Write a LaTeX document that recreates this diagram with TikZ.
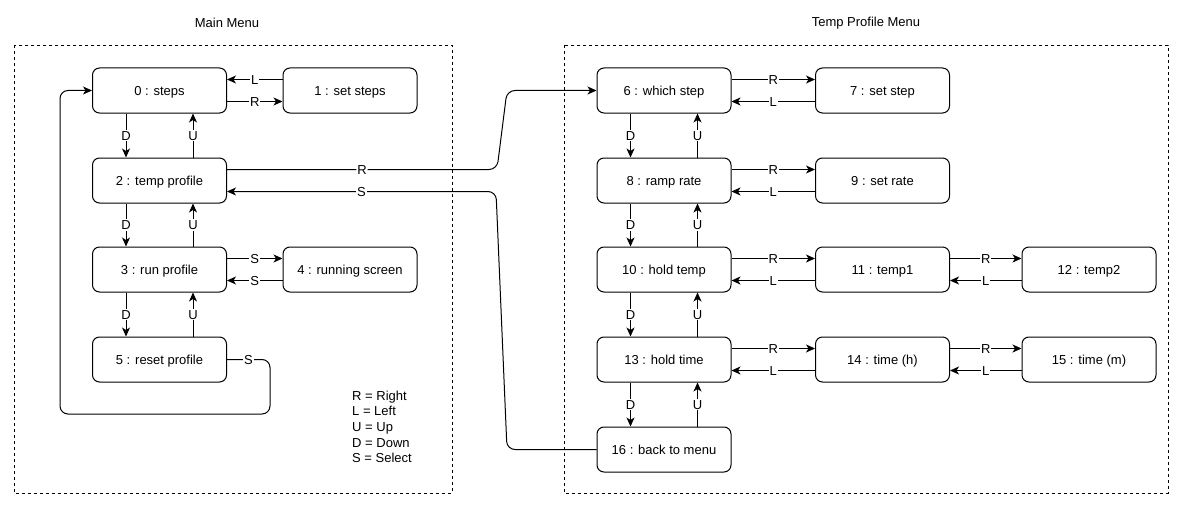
\documentclass[tikz,border=0pt]{standalone}
\usepackage{fontspec}
\setmainfont{Liberation Sans}
\usetikzlibrary{arrows.meta}
\begin{document}
\begin{tikzpicture}[x=1pt,y=-1pt,
  txt/.style={font=\fontsize{13}{15}\selectfont},
  state/.style={txt, draw, rounded corners=7pt, minimum width=134pt, minimum height=45pt, inner sep=0pt, line width=1pt, text height=9.5pt, text depth=0pt},
  edge/.style={-{Stealth[length=9pt,width=8pt,inset=2.5pt]}, line width=1pt},
  lbl/.style={txt, fill=white, inner sep=1pt, text height=9.5pt, text depth=0pt},
  legend/.style={txt, anchor=west, inner sep=0pt, text height=9.5pt, text depth=2.8pt},
  frame/.style={draw, line width=0.8pt, dash pattern=on 3pt off 3pt}]
\useasboundingbox (0,0) rectangle (1184,511);
% frames and titles
\draw[frame] (14,45) rectangle (452,493);
\draw[frame] (564,45) rectangle (1168,493);
\node[txt] (t1) at (227,23) {Main Menu};
\node[txt] (t2) at (866,23) {Temp Profile Menu};
% main menu nodes
\node[state] (n0) at (159.5,90.5) {0 : steps};
\node[state] (n1) at (350,90.5) {1 : set steps};
\node[state] (n2) at (159.5,180.5) {2 : temp profile};
\node[state] (n3) at (159.5,269.5) {3 : run profile};
\node[state] (n4) at (350,269.5) {4 : running screen};
\node[state] (n5) at (159.5,359.5) {5 : reset profile};
% temp profile nodes
\node[state] (n6) at (664,90.5) {6 : which step};
\node[state] (n7) at (882.5,90.5) {7 : set step};
\node[state] (n8) at (664,180.5) {8 : ramp rate};
\node[state] (n9) at (882.5,180.5) {9 : set rate};
\node[state] (n10) at (664,269.5) {10 : hold temp};
\node[state] (n11) at (882.5,269.5) {11 : temp1};
\node[state] (n12) at (1089,269.5) {12 : temp2};
\node[state] (n13) at (664,359.5) {13 : hold time};
\node[state] (n14) at (882.5,359.5) {14 : time (h)};
\node[state] (n15) at (1089,359.5) {15 : time (m)};
\node[state] (n16) at (664,449.5) {16 : back to menu};
% legend
\node[legend] (lg1) at (352,397) {R = Right};
\node[legend] (lg2) at (352,412.3) {L = Left};
\node[legend] (lg3) at (352,428) {U = Up};
\node[legend] (lg4) at (352,443.7) {D = Down};
\node[legend] (lg5) at (352,458.7) {S = Select};
% main menu edges
\draw[edge] ([yshift=11pt]n1.west) -- node[lbl]{L} ([yshift=11pt]n0.east);
\draw[edge] ([yshift=-11pt]n0.east) -- node[lbl]{R} ([yshift=-11pt]n1.west);
\draw[edge] ([yshift=11pt]n3.east) -- node[lbl]{S} ([yshift=11pt]n4.west);
\draw[edge] ([yshift=-11pt]n4.west) -- node[lbl]{S} ([yshift=-11pt]n3.east);
\foreach \a/\b in {n0/n2,n2/n3,n3/n5,n6/n8,n8/n10,n10/n13,n13/n16}{
  \draw[edge] ([xshift=-33.5pt]\a.south) -- node[lbl]{D} ([xshift=-33.5pt]\b.north);
  \draw[edge] ([xshift=33.5pt]\b.north) -- node[lbl]{U} ([xshift=33.5pt]\a.south);
}
\draw[edge, rounded corners=8pt] (n5.east) -- node[lbl]{S} (270,359.5) -- (270,414) -- (60,414) -- (60,90.5) -- (n0.west);
\draw[edge, rounded corners=8pt] ([yshift=11pt]n2.east) -- node[lbl]{R} (497,169.5) -- (507,90.5) -- (n6.west);
\draw[edge, rounded corners=8pt] (n16.west) -- (507,449.5) -- (496,191.5) -- node[lbl]{S} ([yshift=-11pt]n2.east);
% temp profile edges
\foreach \a/\b in {n6/n7,n8/n9,n10/n11,n11/n12,n13/n14,n14/n15}{
  \draw[edge] ([yshift=11pt]\a.east) -- node[lbl]{R} ([yshift=11pt]\b.west);
  \draw[edge] ([yshift=-11pt]\b.west) -- node[lbl]{L} ([yshift=-11pt]\a.east);
}
\end{tikzpicture}
\end{document}
